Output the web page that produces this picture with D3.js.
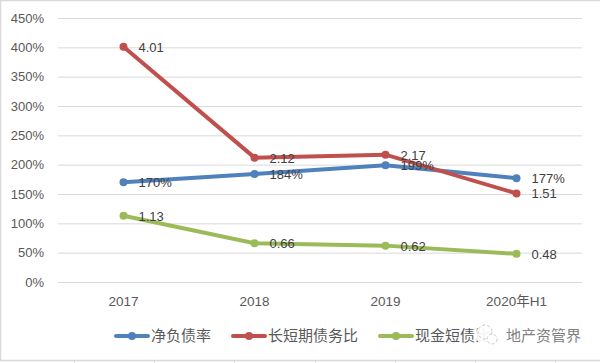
<!DOCTYPE html>
<html>
<head>
<meta charset="utf-8">
<script src="https://cdn.jsdelivr.net/npm/d3@7"></script>
<style>
  html, body { margin: 0; padding: 0; background: #fff; }
  text { font-family: "Noto Sans CJK SC", sans-serif; fill: #595959; }
</style>
</head>
<body>
<script>
// Data
const categories = ["2017", "2018", "2019", "2020年H1"];
const netDebt = [1.70, 1.84, 1.99, 1.77];
const longShort = [4.01, 2.12, 2.17, 1.51];
const cashShort = [1.13, 0.66, 0.62, 0.48];
const yTicks = [0, 0.5, 1, 1.5, 2, 2.5, 3, 3.5, 4, 4.5];

const netLabels = ["170%", "184%", "199%", "177%"];
const longLabels = ["4.01", "2.12", "2.17", "1.51"];
const cashLabels = ["1.13", "0.66", "0.62", "0.48"];

const series = [
    { name: "净负债率", values: netDebt, labels: netLabels, color: "#4f81bd" },
    { name: "长短期债务比", values: longShort, labels: longLabels, color: "#c0504d" },
    { name: "现金短债比", values: cashShort, labels: cashLabels, color: "#9bbb59" }
];

const width = 600, height = 363;
const margin = { top: 18, right: 18, bottom: 81, left: 58 };

const svg = d3.select("body").append("svg")
    .attr("width", width)
    .attr("height", height)
    .style("display", "block");

// Frame: top, left and bottom only, plus the small stubs under the bottom edge
const frame = svg.append("g").attr("stroke", "#d9d9d9").attr("fill", "none");
frame.append("path").attr("d", "M600,0.5H0.5V360.5H600").attr("stroke-width", 1.5);
frame.selectAll("line")
    .data([74, 154, 234, 315, 395, 475, 555])
    .join("line")
    .attr("x1", d => d + 0.5).attr("x2", d => d + 0.5)
    .attr("y1", 361).attr("y2", 363);

const x = d3.scaleBand().domain(categories).range([margin.left, width - margin.right]);
const y = d3.scaleLinear().domain([0, 4.5]).range([height - margin.bottom, margin.top]);

// Gridlines + y labels
const yAxis = svg.append("g")
    .attr("transform", `translate(${margin.left},0)`)
    .call(d3.axisLeft(y).tickValues(yTicks).tickFormat(d3.format(".0%")).tickSize(0).tickPadding(14));
yAxis.select(".domain").remove();
yAxis.selectAll("text").style("font-family", "'Liberation Sans', sans-serif").style("font-size", "13px").style("fill", "#595959");
yAxis.selectAll(".tick line")
    .attr("x2", width - margin.left - margin.right)
    .attr("stroke", "#d9d9d9")
    .attr("stroke-width", 1);

// x labels
const xAxis = svg.append("g")
    .attr("transform", `translate(0,${height - margin.bottom})`)
    .call(d3.axisBottom(x).tickSize(0).tickPadding(14));
xAxis.select(".domain").remove();
xAxis.selectAll("text").style("font-family", "'Liberation Sans', 'Noto Sans CJK SC', sans-serif").style("font-size", "13.5px").style("fill", "#595959");

const line = d3.line()
    .x((d, i) => x(categories[i]) + x.bandwidth() / 2)
    .y(d => y(d));

// Lines and dots
series.forEach(s => {
    svg.append("path")
        .attr("d", line(s.values))
        .attr("fill", "none")
        .attr("stroke", s.color)
        .attr("stroke-width", 4)
        .attr("stroke-linecap", "round");

    svg.selectAll(null)
        .data(s.values)
        .join("circle")
        .attr("cx", (d, i) => x(categories[i]) + x.bandwidth() / 2)
        .attr("cy", d => y(d))
        .attr("r", 4)
        .attr("fill", s.color);
});

// Value labels, drawn on top of every line
series.forEach(s => {
    svg.selectAll(null)
        .data(s.values)
        .join("text")
        .attr("x", (d, i) => x(categories[i]) + x.bandwidth() / 2 + 15)
        .attr("y", d => y(d) + 5)
        .text((d, i) => s.labels[i])
        .style("font-family", "'Liberation Sans', sans-serif")
        .style("font-size", "13px")
        .style("fill", "#404040");
});

// Legend
const legendX = [114, 231, 378];
const legend = svg.selectAll(".legend")
    .data(series)
    .join("g")
    .attr("class", "legend")
    .attr("transform", (d, i) => `translate(${legendX[i]},336)`);
legend.append("line")
    .attr("x1", 2).attr("x2", 34)
    .attr("stroke", d => d.color).attr("stroke-width", 4).attr("stroke-linecap", "round");
legend.append("circle")
    .attr("cx", 18).attr("r", 4).attr("fill", d => d.color);
legend.append("text")
    .attr("x", 37).attr("y", 5)
    .text(d => d.name)
    .style("font-size", "15px");

// Watermark sits over the end of the legend
const mark = svg.append("g").attr("transform", "translate(488,335)");
mark.append("circle").attr("r", 12).attr("fill", "#fff").attr("opacity", 0.92);
mark.append("circle").attr("r", 7).attr("cx", -3).attr("cy", -3)
    .attr("fill", "none").attr("stroke", "#c8c8c8").attr("stroke-dasharray", "3 2");
mark.append("circle").attr("r", 5).attr("cx", 4).attr("cy", 4)
    .attr("fill", "#fff").attr("stroke", "#c8c8c8").attr("stroke-dasharray", "3 2");
svg.append("text").attr("x", 506).attr("y", 341).text("地产资管界")
    .style("font-size", "15px").style("fill", "#7f7f7f");
</script>
</body>
</html>
